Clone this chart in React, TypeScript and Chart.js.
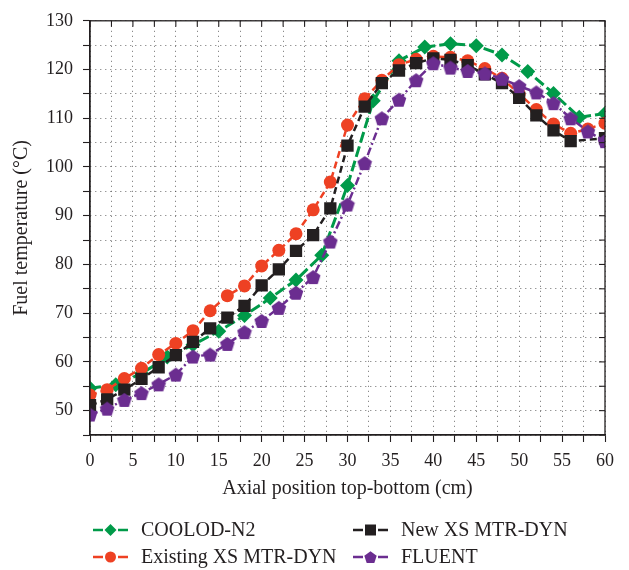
import React, { useEffect, useRef } from 'react';
import { Chart, registerables } from 'chart.js';

Chart.register(...registerables);

// ---- Data ----
const coolodX = [0, 3, 6, 9, 12, 15, 18, 21, 24, 27, 30, 33, 36, 39, 42, 45, 48, 51, 54, 57, 60];
const coolodY = [54.6, 55.3, 57.6, 61.0, 63.5, 66.3, 69.5, 73.1, 76.8, 81.9, 96.2, 113.6, 121.8, 124.6, 125.3, 124.9, 123.0, 119.6, 115.1, 110.2, 111.0];

const existingX = [0, 2, 4, 6, 8, 10, 12, 14, 16, 18, 20, 22, 24, 26, 28, 30, 32, 34, 36, 38, 40, 42, 44, 46, 48, 50, 52, 54, 56, 58, 60];
const existingY = [53.2, 54.3, 56.6, 58.7, 61.5, 63.8, 66.4, 70.5, 73.6, 75.6, 79.7, 82.9, 86.3, 91.2, 96.9, 108.6, 114.0, 117.8, 121.0, 122.1, 122.7, 122.5, 121.8, 120.2, 118.2, 115.0, 111.8, 108.8, 106.9, 107.8, 109.0];

const newX = [0, 2, 4, 6, 8, 10, 12, 14, 16, 18, 20, 22, 24, 26, 28, 30, 32, 34, 36, 38, 40, 42, 44, 46, 48, 50, 52, 54, 56, 60];
const newY = [51.1, 52.3, 54.3, 56.5, 58.9, 61.4, 64.1, 66.9, 69.1, 71.5, 75.7, 79.0, 82.8, 86.0, 91.5, 104.4, 112.4, 117.2, 119.8, 121.3, 122.3, 122.0, 120.9, 119.0, 117.2, 114.2, 110.6, 107.5, 105.3, 105.9];

const fluentX = [0, 2, 4, 6, 8, 10, 12, 14, 16, 18, 20, 22, 24, 26, 28, 30, 32, 34, 36, 38, 40, 42, 44, 46, 48, 50, 52, 54, 56, 58, 60];
const fluentY = [49.2, 50.4, 52.2, 53.6, 55.4, 57.4, 61.1, 61.5, 63.7, 66.1, 68.4, 71.1, 74.2, 77.4, 84.7, 92.3, 100.8, 110.0, 113.8, 117.8, 121.3, 120.4, 119.7, 119.2, 118.1, 116.6, 115.3, 113.1, 110.0, 107.3, 105.3];

const xTitle = 'Axial position top-bottom (cm)';
const yTitle = 'Fuel temperature (\u00B0C)';

const GREEN = '#009a49';
const RED = '#ee4123';
const BLACK = '#231f20';
const PURPLE = '#6b2d90';
const FONT = "'Liberation Serif', 'Times New Roman', serif";

const pairs = (xs: number[], ys: number[]) => xs.map((x, i) => ({ x, y: ys[i] }));

function pentagonPath(ctx: CanvasRenderingContext2D, cx: number, cy: number, R: number) {
  ctx.beginPath();
  for (let i = 0; i < 5; i++) {
    const a = -Math.PI / 2 + (i * 2 * Math.PI) / 5;
    const px = cx + R * Math.cos(a);
    const py = cy + R * Math.sin(a);
    if (i === 0) ctx.moveTo(px, py);
    else ctx.lineTo(px, py);
  }
  ctx.closePath();
}

function makePentagon(size: number, color: string) {
  const c = document.createElement('canvas');
  c.width = size;
  c.height = size;
  const g = c.getContext('2d')!;
  const R = size / 2 - 0.3;
  pentagonPath(g, size / 2, size / 2 + (R - 0.809 * R) / 2, R);
  g.fillStyle = color;
  g.fill();
  return c;
}

function drawMarker(ctx: CanvasRenderingContext2D, style: string, x: number, y: number, color: string) {
  ctx.save();
  ctx.fillStyle = color;
  ctx.setLineDash([]);
  ctx.beginPath();
  if (style === 'diamond') {
    const r = 6;
    ctx.moveTo(x - r, y);
    ctx.lineTo(x, y - r);
    ctx.lineTo(x + r, y);
    ctx.lineTo(x, y + r);
    ctx.closePath();
  } else if (style === 'circle') {
    ctx.arc(x, y, 5.5, 0, Math.PI * 2);
  } else if (style === 'rect') {
    ctx.rect(x - 5.5, y - 5.5, 11, 11);
  } else {
    pentagonPath(ctx, x, y + 0.8, 6.5);
  }
  ctx.fill();
  ctx.restore();
}

const legendItems = [
  { label: 'COOLOD-N2', color: GREEN, marker: 'diamond', col: 0, row: 0 },
  { label: 'New XS MTR-DYN', color: BLACK, marker: 'rect', col: 1, row: 0 },
  { label: 'Existing XS MTR-DYN', color: RED, marker: 'circle', col: 0, row: 1 },
  { label: 'FLUENT', color: PURPLE, marker: 'pentagon', col: 1, row: 1 },
];

const framePlugin = {
  id: 'frameTicks',
  afterDatasetsDraw(chart: any) {
    const { ctx, chartArea, scales } = chart;
    const { left, right, top, bottom } = chartArea;
    ctx.save();
    ctx.strokeStyle = BLACK;
    ctx.lineWidth = 1.3;
    ctx.setLineDash([]);
    ctx.strokeRect(left, top, right - left, bottom - top);
    ctx.lineWidth = 1.1;
    scales.x.ticks.forEach((t: any) => {
      const px = scales.x.getPixelForValue(t.value);
      ctx.beginPath();
      ctx.moveTo(px, top);
      ctx.lineTo(px, top + 6);
      ctx.stroke();
    });
    scales.y.ticks.forEach((t: any) => {
      const py = scales.y.getPixelForValue(t.value);
      ctx.beginPath();
      ctx.moveTo(right, py);
      ctx.lineTo(right - 6, py);
      ctx.stroke();
    });
    ctx.restore();
  },
  afterDraw(chart: any) {
    const { ctx } = chart;
    const colX = [93, 353];
    const rowY = [530, 557];
    ctx.save();
    legendItems.forEach((it) => {
      const x0 = colX[it.col];
      const y0 = rowY[it.row];
      ctx.strokeStyle = it.color;
      ctx.lineWidth = 2.5;
      ctx.setLineDash([]);
      ctx.beginPath();
      ctx.moveTo(x0, y0);
      ctx.lineTo(x0 + 10, y0);
      ctx.moveTo(x0 + 25, y0);
      ctx.lineTo(x0 + 35, y0);
      ctx.stroke();
      drawMarker(ctx, it.marker, x0 + 17.5, y0, it.color);
      ctx.fillStyle = BLACK;
      ctx.font = `20px ${FONT}`;
      ctx.textBaseline = 'middle';
      ctx.textAlign = 'left';
      ctx.fillText(it.label, x0 + 48, y0 + 1);
    });
    ctx.restore();
  },
};

export default function App() {
  const canvasRef = useRef<HTMLCanvasElement | null>(null);

  useEffect(() => {
    const canvas = canvasRef.current;
    if (!canvas) return;
    const pent = makePentagon(16, PURPLE);

    const chart = new Chart(canvas, {
      type: 'line',
      data: {
        datasets: [
          {
            label: 'FLUENT',
            data: pairs(fluentX, fluentY),
            borderColor: PURPLE,
            backgroundColor: PURPLE,
            borderWidth: 2.5,
            borderDash: [8, 3, 2, 3],
            pointStyle: pent as any,
            pointRadius: 8,
            pointBorderWidth: 0,
            tension: 0,
            clip: 0,
          },
          {
            label: 'New XS MTR-DYN',
            data: pairs(newX, newY),
            borderColor: BLACK,
            backgroundColor: BLACK,
            borderWidth: 2.5,
            borderDash: [7, 4],
            pointStyle: 'rect',
            pointRadius: 8.7,
            pointBorderWidth: 0,
            tension: 0,
            clip: 0,
          },
          {
            label: 'Existing XS MTR-DYN',
            data: pairs(existingX, existingY),
            borderColor: RED,
            backgroundColor: RED,
            borderWidth: 2.5,
            borderDash: [7, 4],
            pointStyle: 'circle',
            pointRadius: 6.5,
            pointBorderWidth: 0,
            tension: 0,
            clip: 0,
          },
          {
            label: 'COOLOD-N2',
            data: pairs(coolodX, coolodY),
            borderColor: GREEN,
            backgroundColor: GREEN,
            borderWidth: 3,
            borderDash: [11, 4],
            pointStyle: 'rectRot',
            pointRadius: 7.5,
            pointBorderWidth: 0,
            tension: 0,
            clip: 0,
          },
        ],
      },
      options: {
        responsive: false,
        animation: false,
        layout: { padding: { left: 0, right: 24, top: 19, bottom: 68 } },
        plugins: {
          legend: { display: false },
          tooltip: { enabled: false },
          title: { display: false },
        },
        scales: {
          x: {
            type: 'linear',
            min: 0,
            max: 60,
            afterFit: (s: any) => {
              s.height = 67;
            },
            ticks: {
              stepSize: 2.5,
              autoSkip: false,
              maxRotation: 0,
              padding: 8,
              color: BLACK,
              font: { family: FONT, size: 18 },
              callback: (v: any) => (Number(v) % 5 === 0 ? String(v) : ''),
            },
            grid: {
              color: 'rgba(60,60,60,0.75)',
              lineWidth: 1,
              drawTicks: true,
              tickLength: 7,
              tickColor: BLACK,
              tickWidth: 1.1,
            },
            border: { display: true, color: BLACK, width: 1.3, dash: [1, 4] },
            title: {
              display: true,
              text: xTitle,
              color: BLACK,
              font: { family: FONT, size: 20 },
              padding: { top: 4, bottom: 1 },
            },
          },
          y: {
            type: 'linear',
            min: 45,
            max: 130,
            afterFit: (s: any) => {
              s.width = 90;
            },
            ticks: {
              stepSize: 5,
              autoSkip: false,
              padding: 10,
              color: BLACK,
              font: { family: FONT, size: 18 },
              callback: (v: any) => (Number(v) % 10 === 0 ? String(v) : ''),
            },
            grid: {
              color: 'rgba(60,60,60,0.75)',
              lineWidth: 1,
              drawTicks: true,
              tickLength: 7,
              tickColor: BLACK,
              tickWidth: 1.1,
            },
            border: { display: true, color: BLACK, width: 1.3, dash: [1, 4] },
            title: {
              display: true,
              text: yTitle,
              color: BLACK,
              font: { family: FONT, size: 20 },
              padding: { top: 10, bottom: 4 },
            },
          },
        },
      },
      plugins: [framePlugin],
    } as any);

    return () => chart.destroy();
  }, []);

  return (
    <div style={{ position: 'absolute', left: 0, top: 0, width: 629, height: 570, background: '#fff' }}>
      <canvas ref={canvasRef} width={629} height={570} style={{ width: 629, height: 570, display: 'block' }} />
    </div>
  );
}
